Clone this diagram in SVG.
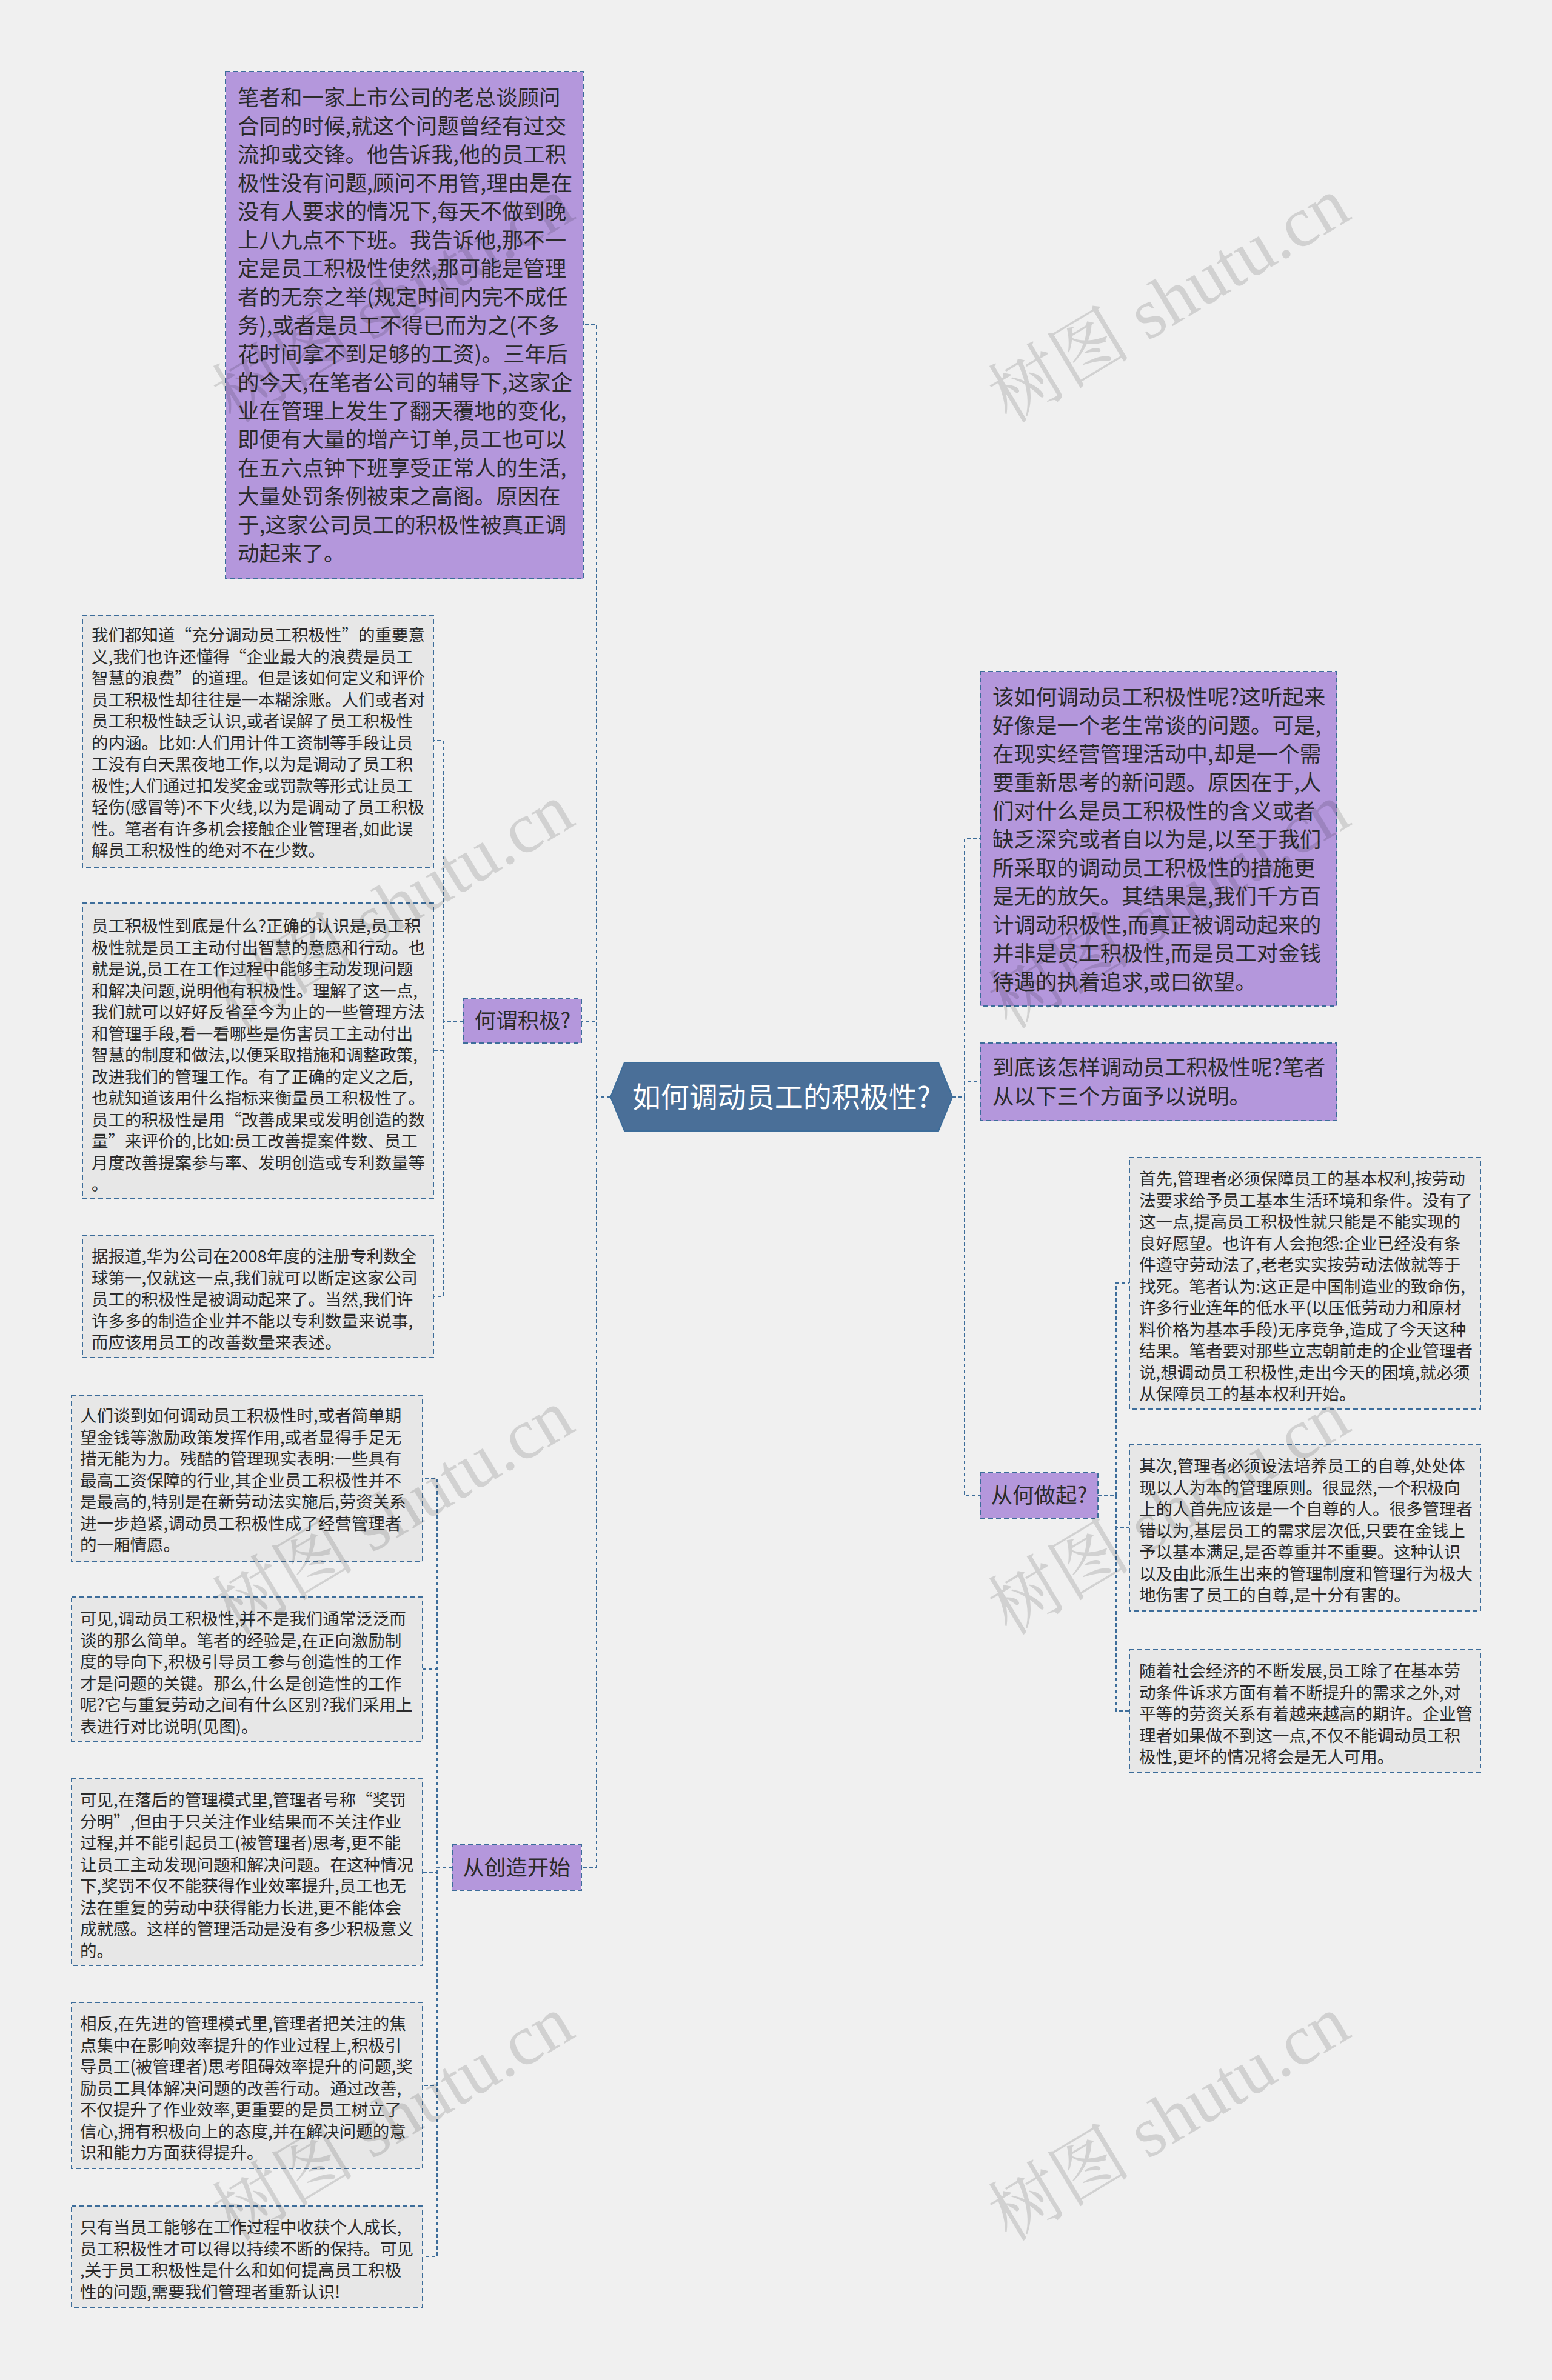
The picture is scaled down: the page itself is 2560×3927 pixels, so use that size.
<svg xmlns="http://www.w3.org/2000/svg" width="2560" height="3927" viewBox="0 0 2560 3927">
<defs>
<style>
.bg{fill:#f0f0f0}
.pbox{fill:#b497dc;stroke:#3d6d9a;stroke-width:2;stroke-dasharray:8 5}
.gbox{fill:#e7e7e7;stroke:#3d6d9a;stroke-width:2;stroke-dasharray:8 5}
.lbl{fill:#b497dc;stroke:#3d6d9a;stroke-width:2;stroke-dasharray:8 5}
.tl{font-family:"Noto Sans CJK SC","Microsoft YaHei",sans-serif;font-size:35.5px;fill:#2b2b2b}
.ts{font-family:"Noto Sans CJK SC","Microsoft YaHei",sans-serif;font-size:27.5px;fill:#2b2b2b}
.tr{font-family:"Noto Sans CJK SC","Microsoft YaHei",sans-serif;font-size:47px;fill:#ffffff}
.con{fill:none;stroke:#3d6d9a;stroke-width:2;stroke-dasharray:6 4}
.wm{font-family:"Liberation Serif","Noto Serif CJK SC","Noto Sans CJK SC",serif;font-size:118px;fill:#000;fill-opacity:0.13}
</style>
</defs>
<rect class="bg" x="0" y="0" width="2560" height="3927"/>
<g id="connectors">
<path class="con" d="M1007,1810 H984 V536 H962"/>
<path class="con" d="M1007,1810 H984 V1685 H959"/>
<path class="con" d="M1007,1810 H984 V3081 H959"/>
<path class="con" d="M1571,1810 H1591 V1384 H1617"/>
<path class="con" d="M1571,1810 H1591 V1785 H1617"/>
<path class="con" d="M1571,1810 H1591 V2468 H1617"/>
<path class="con" d="M1811,2468 H1841 V2117 H1863"/>
<path class="con" d="M1811,2468 H1841 V2521 H1863"/>
<path class="con" d="M1811,2468 H1841 V2823 H1863"/>
<path class="con" d="M764,1685 H731 V1222 H715"/>
<path class="con" d="M764,1685 H731 V1733 H715"/>
<path class="con" d="M764,1685 H731 V2139 H715"/>
<path class="con" d="M746,3081 H721 V2440 H697"/>
<path class="con" d="M746,3081 H721 V2754 H697"/>
<path class="con" d="M746,3081 H721 V3089 H697"/>
<path class="con" d="M746,3081 H721 V3441 H697"/>
<path class="con" d="M746,3081 H721 V3723 H697"/>
</g>
<g id="root">
<path d="M1007,1810 L1030,1753 H1548 L1571,1810 L1548,1866 H1030 Z" fill="#4a6f98" stroke="#3d6d9a" stroke-width="2"/>
<text class="tr" x="1289" y="1827" text-anchor="middle">如何调动员工的积极性?</text>
</g>
<g id="n-top">
<rect class="pbox" x="372" y="118" width="590" height="837"/>
<text class="tl" x="392" y="174"><tspan x="392">笔者和一家上市公司的老总谈顾问</tspan><tspan x="392" dy="47">合同的时候,就这个问题曾经有过交</tspan><tspan x="392" dy="47">流抑或交锋。他告诉我,他的员工积</tspan><tspan x="392" dy="47">极性没有问题,顾问不用管,理由是在</tspan><tspan x="392" dy="47">没有人要求的情况下,每天不做到晚</tspan><tspan x="392" dy="47">上八九点不下班。我告诉他,那不一</tspan><tspan x="392" dy="47">定是员工积极性使然,那可能是管理</tspan><tspan x="392" dy="47">者的无奈之举(规定时间内完不成任</tspan><tspan x="392" dy="47">务),或者是员工不得已而为之(不多</tspan><tspan x="392" dy="47">花时间拿不到足够的工资)。三年后</tspan><tspan x="392" dy="47">的今天,在笔者公司的辅导下,这家企</tspan><tspan x="392" dy="47">业在管理上发生了翻天覆地的变化,</tspan><tspan x="392" dy="47">即便有大量的增产订单,员工也可以</tspan><tspan x="392" dy="47">在五六点钟下班享受正常人的生活,</tspan><tspan x="392" dy="47">大量处罚条例被束之高阁。原因在</tspan><tspan x="392" dy="47">于,这家公司员工的积极性被真正调</tspan><tspan x="392" dy="47">动起来了。</tspan></text>
</g>
<g id="n-heiwei">
<rect class="lbl" x="764" y="1648" width="195" height="73"/>
<text class="tl" x="862" y="1697" text-anchor="middle">何谓积极?</text>
</g>
<g id="n-a">
<rect class="gbox" x="136" y="1015" width="579" height="416"/>
<text class="ts" x="151" y="1058"><tspan x="151">我们都知道“充分调动员工积极性”的重要意</tspan><tspan x="151" dy="35.5">义,我们也许还懂得“企业最大的浪费是员工</tspan><tspan x="151" dy="35.5">智慧的浪费”的道理。但是该如何定义和评价</tspan><tspan x="151" dy="35.5">员工积极性却往往是一本糊涂账。人们或者对</tspan><tspan x="151" dy="35.5">员工积极性缺乏认识,或者误解了员工积极性</tspan><tspan x="151" dy="35.5">的内涵。比如:人们用计件工资制等手段让员</tspan><tspan x="151" dy="35.5">工没有白天黑夜地工作,以为是调动了员工积</tspan><tspan x="151" dy="35.5">极性;人们通过扣发奖金或罚款等形式让员工</tspan><tspan x="151" dy="35.5">轻伤(感冒等)不下火线,以为是调动了员工积极</tspan><tspan x="151" dy="35.5">性。笔者有许多机会接触企业管理者,如此误</tspan><tspan x="151" dy="35.5">解员工积极性的绝对不在少数。</tspan></text>
</g>
<g id="n-b">
<rect class="gbox" x="136" y="1490" width="579" height="488"/>
<text class="ts" x="151" y="1538"><tspan x="151">员工积极性到底是什么?正确的认识是,员工积</tspan><tspan x="151" dy="35.5">极性就是员工主动付出智慧的意愿和行动。也</tspan><tspan x="151" dy="35.5">就是说,员工在工作过程中能够主动发现问题</tspan><tspan x="151" dy="35.5">和解决问题,说明他有积极性。理解了这一点,</tspan><tspan x="151" dy="35.5">我们就可以好好反省至今为止的一些管理方法</tspan><tspan x="151" dy="35.5">和管理手段,看一看哪些是伤害员工主动付出</tspan><tspan x="151" dy="35.5">智慧的制度和做法,以便采取措施和调整政策,</tspan><tspan x="151" dy="35.5">改进我们的管理工作。有了正确的定义之后,</tspan><tspan x="151" dy="35.5">也就知道该用什么指标来衡量员工积极性了。</tspan><tspan x="151" dy="35.5">员工的积极性是用“改善成果或发明创造的数</tspan><tspan x="151" dy="35.5">量”来评价的,比如:员工改善提案件数、员工</tspan><tspan x="151" dy="35.5">月度改善提案参与率、发明创造或专利数量等</tspan><tspan x="151" dy="35.5">。</tspan></text>
</g>
<g id="n-c">
<rect class="gbox" x="136" y="2038" width="579" height="202"/>
<text class="ts" x="151" y="2083"><tspan x="151">据报道,华为公司在2008年度的注册专利数全</tspan><tspan x="151" dy="35.5">球第一,仅就这一点,我们就可以断定这家公司</tspan><tspan x="151" dy="35.5">员工的积极性是被调动起来了。当然,我们许</tspan><tspan x="151" dy="35.5">许多多的制造企业并不能以专利数量来说事,</tspan><tspan x="151" dy="35.5">而应该用员工的改善数量来表述。</tspan></text>
</g>
<g id="n-chuangzao">
<rect class="lbl" x="746" y="3044" width="213" height="75"/>
<text class="tl" x="852" y="3094" text-anchor="middle">从创造开始</text>
</g>
<g id="n-d">
<rect class="gbox" x="118" y="2302" width="579" height="275"/>
<text class="ts" x="132" y="2346"><tspan x="132">人们谈到如何调动员工积极性时,或者简单期</tspan><tspan x="132" dy="35.5">望金钱等激励政策发挥作用,或者显得手足无</tspan><tspan x="132" dy="35.5">措无能为力。残酷的管理现实表明:一些具有</tspan><tspan x="132" dy="35.5">最高工资保障的行业,其企业员工积极性并不</tspan><tspan x="132" dy="35.5">是最高的,特别是在新劳动法实施后,劳资关系</tspan><tspan x="132" dy="35.5">进一步趋紧,调动员工积极性成了经营管理者</tspan><tspan x="132" dy="35.5">的一厢情愿。</tspan></text>
</g>
<g id="n-e">
<rect class="gbox" x="118" y="2635" width="579" height="238"/>
<text class="ts" x="132" y="2681"><tspan x="132">可见,调动员工积极性,并不是我们通常泛泛而</tspan><tspan x="132" dy="35.5">谈的那么简单。笔者的经验是,在正向激励制</tspan><tspan x="132" dy="35.5">度的导向下,积极引导员工参与创造性的工作</tspan><tspan x="132" dy="35.5">才是问题的关键。那么,什么是创造性的工作</tspan><tspan x="132" dy="35.5">呢?它与重复劳动之间有什么区别?我们采用上</tspan><tspan x="132" dy="35.5">表进行对比说明(见图)。</tspan></text>
</g>
<g id="n-f">
<rect class="gbox" x="118" y="2935" width="579" height="308"/>
<text class="ts" x="132" y="2980"><tspan x="132">可见,在落后的管理模式里,管理者号称“奖罚</tspan><tspan x="132" dy="35.5">分明”,但由于只关注作业结果而不关注作业</tspan><tspan x="132" dy="35.5">过程,并不能引起员工(被管理者)思考,更不能</tspan><tspan x="132" dy="35.5">让员工主动发现问题和解决问题。在这种情况</tspan><tspan x="132" dy="35.5">下,奖罚不仅不能获得作业效率提升,员工也无</tspan><tspan x="132" dy="35.5">法在重复的劳动中获得能力长进,更不能体会</tspan><tspan x="132" dy="35.5">成就感。这样的管理活动是没有多少积极意义</tspan><tspan x="132" dy="35.5">的。</tspan></text>
</g>
<g id="n-g">
<rect class="gbox" x="118" y="3304" width="579" height="274"/>
<text class="ts" x="132" y="3349"><tspan x="132">相反,在先进的管理模式里,管理者把关注的焦</tspan><tspan x="132" dy="35.5">点集中在影响效率提升的作业过程上,积极引</tspan><tspan x="132" dy="35.5">导员工(被管理者)思考阻碍效率提升的问题,奖</tspan><tspan x="132" dy="35.5">励员工具体解决问题的改善行动。通过改善,</tspan><tspan x="132" dy="35.5">不仅提升了作业效率,更重要的是员工树立了</tspan><tspan x="132" dy="35.5">信心,拥有积极向上的态度,并在解决问题的意</tspan><tspan x="132" dy="35.5">识和能力方面获得提升。</tspan></text>
</g>
<g id="n-h">
<rect class="gbox" x="118" y="3640" width="579" height="167"/>
<text class="ts" x="132" y="3685"><tspan x="132">只有当员工能够在工作过程中收获个人成长,</tspan><tspan x="132" dy="35.5">员工积极性才可以得以持续不断的保持。可见</tspan><tspan x="132" dy="35.5">,关于员工积极性是什么和如何提高员工积极</tspan><tspan x="132" dy="35.5">性的问题,需要我们管理者重新认识!</tspan></text>
</g>
<g id="n-r1">
<rect class="pbox" x="1617" y="1108" width="588" height="552"/>
<text class="tl" x="1637" y="1163"><tspan x="1637">该如何调动员工积极性呢?这听起来</tspan><tspan x="1637" dy="47">好像是一个老生常谈的问题。可是,</tspan><tspan x="1637" dy="47">在现实经营管理活动中,却是一个需</tspan><tspan x="1637" dy="47">要重新思考的新问题。原因在于,人</tspan><tspan x="1637" dy="47">们对什么是员工积极性的含义或者</tspan><tspan x="1637" dy="47">缺乏深究或者自以为是,以至于我们</tspan><tspan x="1637" dy="47">所采取的调动员工积极性的措施更</tspan><tspan x="1637" dy="47">是无的放矢。其结果是,我们千方百</tspan><tspan x="1637" dy="47">计调动积极性,而真正被调动起来的</tspan><tspan x="1637" dy="47">并非是员工积极性,而是员工对金钱</tspan><tspan x="1637" dy="47">待遇的执着追求,或曰欲望。</tspan></text>
</g>
<g id="n-r2">
<rect class="pbox" x="1617" y="1721" width="588" height="128"/>
<text class="tl" x="1637" y="1774"><tspan x="1637">到底该怎样调动员工积极性呢?笔者</tspan><tspan x="1637" dy="48">从以下三个方面予以说明。</tspan></text>
</g>
<g id="n-conghe">
<rect class="lbl" x="1617" y="2430" width="194" height="75"/>
<text class="tl" x="1714" y="2480" text-anchor="middle">从何做起?</text>
</g>
<g id="n-i">
<rect class="gbox" x="1863" y="1910" width="579" height="415"/>
<text class="ts" x="1879" y="1955"><tspan x="1879">首先,管理者必须保障员工的基本权利,按劳动</tspan><tspan x="1879" dy="35.5">法要求给予员工基本生活环境和条件。没有了</tspan><tspan x="1879" dy="35.5">这一点,提高员工积极性就只能是不能实现的</tspan><tspan x="1879" dy="35.5">良好愿望。也许有人会抱怨:企业已经没有条</tspan><tspan x="1879" dy="35.5">件遵守劳动法了,老老实实按劳动法做就等于</tspan><tspan x="1879" dy="35.5">找死。笔者认为:这正是中国制造业的致命伤,</tspan><tspan x="1879" dy="35.5">许多行业连年的低水平(以压低劳动力和原材</tspan><tspan x="1879" dy="35.5">料价格为基本手段)无序竞争,造成了今天这种</tspan><tspan x="1879" dy="35.5">结果。笔者要对那些立志朝前走的企业管理者</tspan><tspan x="1879" dy="35.5">说,想调动员工积极性,走出今天的困境,就必须</tspan><tspan x="1879" dy="35.5">从保障员工的基本权利开始。</tspan></text>
</g>
<g id="n-j">
<rect class="gbox" x="1863" y="2384" width="579" height="274"/>
<text class="ts" x="1879" y="2429"><tspan x="1879">其次,管理者必须设法培养员工的自尊,处处体</tspan><tspan x="1879" dy="35.5">现以人为本的管理原则。很显然,一个积极向</tspan><tspan x="1879" dy="35.5">上的人首先应该是一个自尊的人。很多管理者</tspan><tspan x="1879" dy="35.5">错以为,基层员工的需求层次低,只要在金钱上</tspan><tspan x="1879" dy="35.5">予以基本满足,是否尊重并不重要。这种认识</tspan><tspan x="1879" dy="35.5">以及由此派生出来的管理制度和管理行为极大</tspan><tspan x="1879" dy="35.5">地伤害了员工的自尊,是十分有害的。</tspan></text>
</g>
<g id="n-k">
<rect class="gbox" x="1863" y="2722" width="579" height="202"/>
<text class="ts" x="1879" y="2767"><tspan x="1879">随着社会经济的不断发展,员工除了在基本劳</tspan><tspan x="1879" dy="35.5">动条件诉求方面有着不断提升的需求之外,对</tspan><tspan x="1879" dy="35.5">平等的劳资关系有着越来越高的期许。企业管</tspan><tspan x="1879" dy="35.5">理者如果做不到这一点,不仅不能调动员工积</tspan><tspan x="1879" dy="35.5">极性,更坏的情况将会是无人可用。</tspan></text>
</g>
<g id="watermarks">
<text class="wm" transform="translate(1665,700) rotate(-31)">树图 shutu.cn</text>
<text class="wm" transform="translate(385,700) rotate(-31)">树图 shutu.cn</text>
<text class="wm" transform="translate(1665,1700) rotate(-31)">树图 shutu.cn</text>
<text class="wm" transform="translate(385,1700) rotate(-31)">树图 shutu.cn</text>
<text class="wm" transform="translate(1665,2700) rotate(-31)">树图 shutu.cn</text>
<text class="wm" transform="translate(385,2700) rotate(-31)">树图 shutu.cn</text>
<text class="wm" transform="translate(1665,3700) rotate(-31)">树图 shutu.cn</text>
<text class="wm" transform="translate(385,3700) rotate(-31)">树图 shutu.cn</text>
</g>
</svg>
